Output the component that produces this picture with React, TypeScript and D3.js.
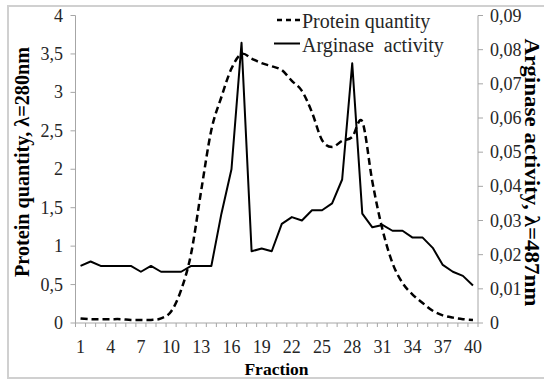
import { useEffect, useRef } from 'react';
import * as d3 from 'd3';

// fractions 1..40
const fractions = [
  1, 2, 3, 4, 5, 6, 7, 8, 9, 10, 11, 12, 13, 14, 15, 16, 17, 18, 19, 20,
  21, 22, 23, 24, 25, 26, 27, 28, 29, 30, 31, 32, 33, 34, 35, 36, 37, 38, 39, 40,
];

// protein quantity, A280 (left axis)
const protein = [
  0.06, 0.05, 0.05, 0.05, 0.05, 0.04, 0.04, 0.04, 0.06, 0.15,
  0.43, 0.91, 1.73, 2.51, 2.94, 3.31, 3.5, 3.44, 3.38, 3.34,
  3.29, 3.15, 3.02, 2.74, 2.38, 2.29, 2.37, 2.42, 2.62, 1.84,
  1.22, 0.78, 0.52, 0.37, 0.26, 0.16, 0.1, 0.07, 0.05, 0.04,
];

// arginase activity, A487 (right axis)
const arginase = [
  0.0167, 0.018, 0.0167, 0.0167, 0.0167, 0.0167, 0.015, 0.0167, 0.015, 0.015,
  0.015, 0.0167, 0.0167, 0.0167, 0.032, 0.045, 0.082, 0.021, 0.0218, 0.021,
  0.029, 0.031, 0.03, 0.033, 0.033, 0.035, 0.042, 0.076, 0.032, 0.028,
  0.0287, 0.027, 0.027, 0.025, 0.025, 0.022, 0.017, 0.015, 0.0138, 0.011,
];

const leftTicks = [0, 0.5, 1, 1.5, 2, 2.5, 3, 3.5, 4];
const rightTicks = [0, 0.01, 0.02, 0.03, 0.04, 0.05, 0.06, 0.07, 0.08, 0.09];
const xLabels = [1, 4, 7, 10, 13, 16, 19, 22, 25, 28, 31, 34, 37, 40];

const W = 544;
const H = 379;
const FONT = "'Liberation Serif', 'Times New Roman', serif";

export default function App() {
  const svgRef = useRef<SVGSVGElement>(null);

  useEffect(() => {
    if (!svgRef.current) return;
    const svg = d3.select(svgRef.current);
    svg.selectAll('*').remove();

    const left = 75.5;
    const right = 478;
    const top = 15.5;
    const bottom = 323;
    const axisColor = '#a6a6a6';
    const textColor = '#262626';
    const comma = (v: number, digits: number) =>
      v === 0 ? '0' : v.toFixed(digits).replace('.', ',');

    // frame
    svg
      .append('rect')
      .attr('x', 0)
      .attr('y', 0)
      .attr('width', W)
      .attr('height', H)
      .attr('fill', '#fff');
    svg
      .append('rect')
      .attr('x', 8)
      .attr('y', 6)
      .attr('width', W)
      .attr('height', 372)
      .attr('fill', 'none')
      .attr('stroke', '#d0d0d0')
      .attr('stroke-width', 2);

    const x = d3
      .scaleBand<number>()
      .domain(fractions)
      .range([left, right]);
    const cx = (f: number) => (x(f) ?? 0) + x.bandwidth() / 2;
    const yL = d3.scaleLinear().domain([0, 4]).range([bottom, top]);
    const yR = d3.scaleLinear().domain([0, 0.09]).range([bottom, top]);

    // axes lines
    const axes = svg.append('g').attr('stroke', axisColor).attr('stroke-width', 1);
    axes.append('line').attr('x1', left).attr('x2', left).attr('y1', top).attr('y2', bottom);
    axes.append('line').attr('x1', right).attr('x2', right).attr('y1', top).attr('y2', bottom);
    axes.append('line').attr('x1', left).attr('x2', right).attr('y1', bottom).attr('y2', bottom);

    // x ticks at category boundaries
    const bounds = fractions.map((f) => x(f) ?? 0).concat([right]);
    axes
      .selectAll('line.xt')
      .data(bounds)
      .enter()
      .append('line')
      .attr('x1', (d) => d)
      .attr('x2', (d) => d)
      .attr('y1', bottom)
      .attr('y2', bottom + 4);

    axes
      .selectAll('line.lt')
      .data(leftTicks)
      .enter()
      .append('line')
      .attr('x1', left - 5)
      .attr('x2', left)
      .attr('y1', (d) => yL(d))
      .attr('y2', (d) => yL(d));

    axes
      .selectAll('line.rt')
      .data(rightTicks)
      .enter()
      .append('line')
      .attr('x1', right)
      .attr('x2', right + 5)
      .attr('y1', (d) => yR(d))
      .attr('y2', (d) => yR(d));

    // tick labels
    const labels = svg
      .append('g')
      .style('font-family', FONT)
      .style('font-size', '18px')
      .attr('fill', textColor);

    labels
      .selectAll('text.l')
      .data(leftTicks)
      .enter()
      .append('text')
      .attr('x', 63)
      .attr('y', (d) => yL(d) + 6)
      .attr('text-anchor', 'end')
      .text((d) => comma(d, d % 1 === 0 ? 0 : 1));

    labels
      .selectAll('text.r')
      .data(rightTicks)
      .enter()
      .append('text')
      .attr('x', 490)
      .attr('y', (d) => yR(d) + 6)
      .text((d) => comma(d, 2));

    labels
      .selectAll('text.x')
      .data(xLabels)
      .enter()
      .append('text')
      .attr('x', (d) => cx(d))
      .attr('y', 353)
      .attr('text-anchor', 'middle')
      .text((d) => d);

    // axis titles
    svg
      .append('text')
      .attr('x', 276.5)
      .attr('y', 375)
      .attr('text-anchor', 'middle')
      .style('font-family', FONT)
      .style('font-weight', 'bold')
      .style('font-size', '17.5px')
      .attr('fill', '#000')
      .text('Fraction');

    svg
      .append('text')
      .attr('transform', 'translate(29,162) rotate(-90)')
      .attr('text-anchor', 'middle')
      .style('font-family', FONT)
      .style('font-weight', 'bold')
      .style('font-size', '20px')
      .attr('fill', '#000')
      .attr('textLength', 230)
      .attr('lengthAdjust', 'spacingAndGlyphs')
      .text('Protein quantity, λ=280nm');

    svg
      .append('text')
      .attr('transform', 'translate(525,172.5) rotate(90)')
      .attr('text-anchor', 'middle')
      .style('font-family', FONT)
      .style('font-weight', 'bold')
      .style('font-size', '20px')
      .attr('fill', '#000')
      .attr('textLength', 268)
      .attr('lengthAdjust', 'spacingAndGlyphs')
      .text('Arginase activity, λ=487nm');

    // series
    const proteinLine = d3
      .line<number>()
      .x((_, i) => cx(fractions[i]))
      .y((d) => yL(d))
      .curve(d3.curveCatmullRom.alpha(0));

    const arginaseLine = d3
      .line<number>()
      .x((_, i) => cx(fractions[i]))
      .y((d) => yR(d));

    svg
      .append('path')
      .datum(protein)
      .attr('d', proteinLine)
      .attr('fill', 'none')
      .attr('stroke', '#000')
      .attr('stroke-width', 2.5)
      .attr('stroke-dasharray', '7,4');

    svg
      .append('path')
      .datum(arginase)
      .attr('d', arginaseLine)
      .attr('fill', 'none')
      .attr('stroke', '#000')
      .attr('stroke-width', 2)
      .attr('stroke-linejoin', 'round');

    // legend
    const legend = svg
      .append('g')
      .style('font-family', FONT)
      .style('font-size', '20px')
      .attr('fill', textColor);

    legend
      .append('line')
      .attr('x1', 277)
      .attr('x2', 300)
      .attr('y1', 20)
      .attr('y2', 20)
      .attr('stroke', '#000')
      .attr('stroke-width', 2.5)
      .attr('stroke-dasharray', '5,4');
    legend.append('text').attr('x', 302).attr('y', 28).text('Protein quantity');

    legend
      .append('line')
      .attr('x1', 274)
      .attr('x2', 300)
      .attr('y1', 43.5)
      .attr('y2', 43.5)
      .attr('stroke', '#000')
      .attr('stroke-width', 2);
    legend
      .append('text')
      .attr('x', 302)
      .attr('y', 51.5)
      .style('white-space', 'pre')
      .text('Arginase  activity');
  }, []);

  return (
    <svg
      ref={svgRef}
      width={W}
      height={H}
      style={{
        position: 'absolute',
        left: 0,
        top: 0,
        display: 'block',
        fontFamily: FONT,
      }}
    />
  );
}
